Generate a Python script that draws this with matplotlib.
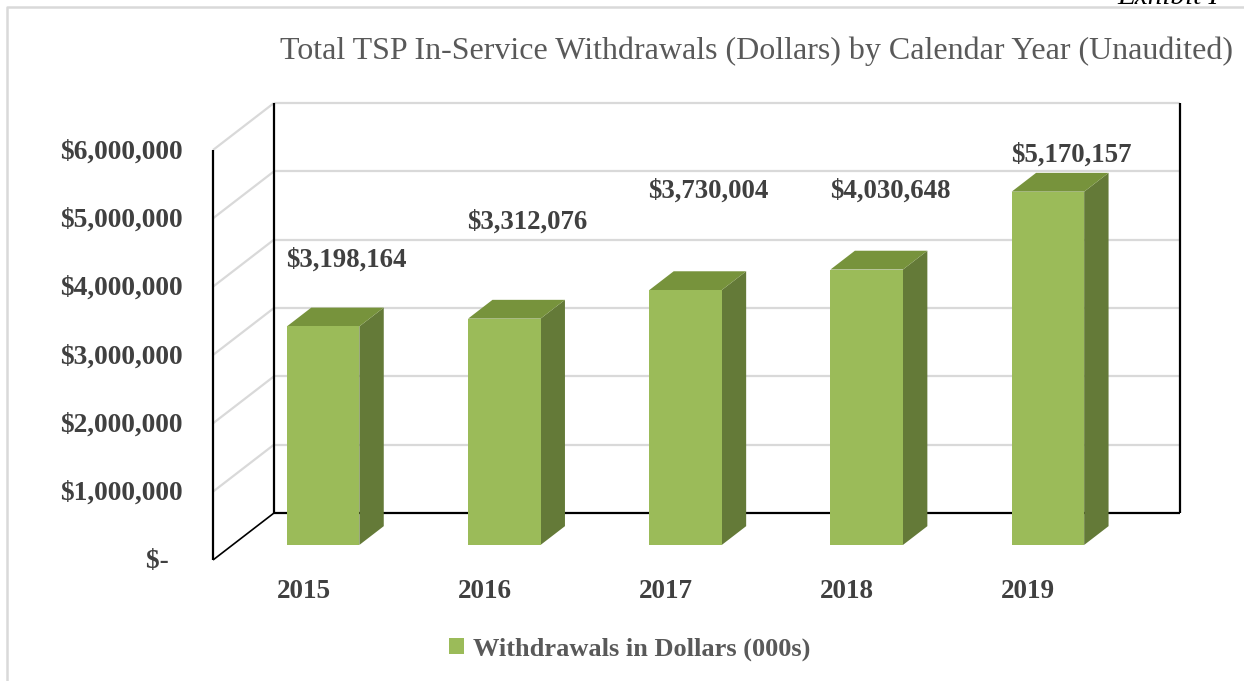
import matplotlib.pyplot as plt
import numpy as np
from matplotlib.patches import Polygon, Patch
from matplotlib.lines import Line2D
from matplotlib.transforms import IdentityTransform

years = ["2015", "2016", "2017", "2018", "2019"]
withdrawals = [3198164, 3312076, 3730004, 4030648, 5170157]
value_labels = ["$3,198,164", "$3,312,076", "$3,730,004", "$4,030,648", "$5,170,157"]
y_ticks = [0, 1000000, 2000000, 3000000, 4000000, 5000000, 6000000]
y_tick_labels = ["$-  ", "$1,000,000", "$2,000,000", "$3,000,000",
                 "$4,000,000", "$5,000,000", "$6,000,000"]

# label lift above bar top (pixels), Excel put them a bit unevenly
label_lift = [48, 79, 81, 61, 19]

FRONT = "#9BBB59"
SIDE = "#647A38"
TOP = "#77933C"
GRID = "#D9D9D9"
TXT = "#404040"

plt.rcParams["font.family"] = ["Liberation Serif", "DejaVu Serif"]

W, H = 1244, 681
fig = plt.figure(figsize=(W / 100, H / 100), dpi=100)

# axes = back wall of the 3d box
ax = fig.add_axes([274 / W, (H - 513) / H, 906 / W, 410 / H])
ax.set_xlim(-0.5, len(years) - 0.5)
ax.set_ylim(0, 6000000)
ax.axis("off")

DX, DY = -61, -47  # full floor depth, display pixels
ident = IdentityTransform()


def proj(x, v, d):
    px, py = ax.transData.transform((x, v))
    return px + DX * d, py + DY * d


def seg(p, q, color, lw, z=1):
    fig.add_artist(Line2D([p[0], q[0]], [p[1], q[1]], color=color, lw=lw,
                          transform=ident, zorder=z, solid_capstyle="butt"))


x0, x1 = -0.5, len(years) - 0.5
# gridlines on back wall and side wall
for v in y_ticks:
    if v == 0:
        continue
    seg(proj(x0, v, 0), proj(x1, v, 0), GRID, 1.6)
    seg(proj(x0, v, 1), proj(x0, v, 0), GRID, 1.6)

# wall edges
seg(proj(x0, 0, 0), proj(x0, 6000000, 0), "black", 1.6, 2)
seg(proj(x1, 0, 0), proj(x1, 6000000, 0), "black", 1.6, 2)
seg(proj(x0, 0, 0), proj(x1, 0, 0), "black", 1.6, 2)
seg(proj(x0, 0, 1), proj(x0, 6000000, 1), "black", 1.6, 2)
seg(proj(x0, 0, 1), proj(x0, 0, 0), "black", 1.2, 2)

# bars
hw = 0.2
db, df = 0.28, 0.68
for i, v in enumerate(withdrawals):
    front = [proj(i - hw, 0, df), proj(i + hw, 0, df), proj(i + hw, v, df), proj(i - hw, v, df)]
    side = [proj(i + hw, 0, df), proj(i + hw, 0, db), proj(i + hw, v, db), proj(i + hw, v, df)]
    top = [proj(i - hw, v, df), proj(i - hw, v, db), proj(i + hw, v, db), proj(i + hw, v, df)]
    for pts, c in ((side, SIDE), (top, TOP), (front, FRONT)):
        fig.add_artist(Polygon(pts, closed=True, facecolor=c, edgecolor="none",
                               transform=ident, zorder=3))
    lx, ly = proj(i, v, 0.3)
    fig.text(lx, ly + label_lift[i], value_labels[i], transform=ident,
             ha="center", va="center", fontsize=19.4, fontweight="bold", color=TXT, zorder=5)

# axis labels
for v, lab in zip(y_ticks, y_tick_labels):
    px, py = proj(x0, v, 1)
    fig.text(px - 30, py - 2, lab, transform=ident, ha="right", va="center",
             fontsize=19.8, fontweight="bold", color=TXT)
for i, yr in enumerate(years):
    px, py = proj(i, 0, 1)
    fig.text(px, py - 32, yr, transform=ident, ha="center", va="center",
             fontsize=19.5, fontweight="bold", color=TXT)

# title
fig.text(757 / W, 1 - 51 / H, "Total TSP In-Service Withdrawals (Dollars) by Calendar Year (Unaudited)",
         ha="center", va="center", fontsize=23, color="#595959")

# legend
fig.legend(handles=[Patch(facecolor=FRONT, edgecolor="none")],
           labels=["Withdrawals in Dollars (000s)"],
           loc="center", bbox_to_anchor=(630 / W, 1 - 649 / H), frameon=False,
           handlelength=0.55, handleheight=0.55, handletextpad=0.35,
           prop={"size": 19, "weight": "bold"}, labelcolor="#595959")

# chart border and exhibit note (sits partly above the page edge, as in the source)
fig.add_artist(Line2D([7, 7, W + 5], [-5, H - 7, H - 7], color=GRID, lw=1.8,
                      transform=ident))
fig.text(1117, H - 4, "Exhibit I", transform=ident, ha="left", va="baseline",
         fontsize=21, style="italic", color="black")

fig.savefig("out.png", dpi=100)
